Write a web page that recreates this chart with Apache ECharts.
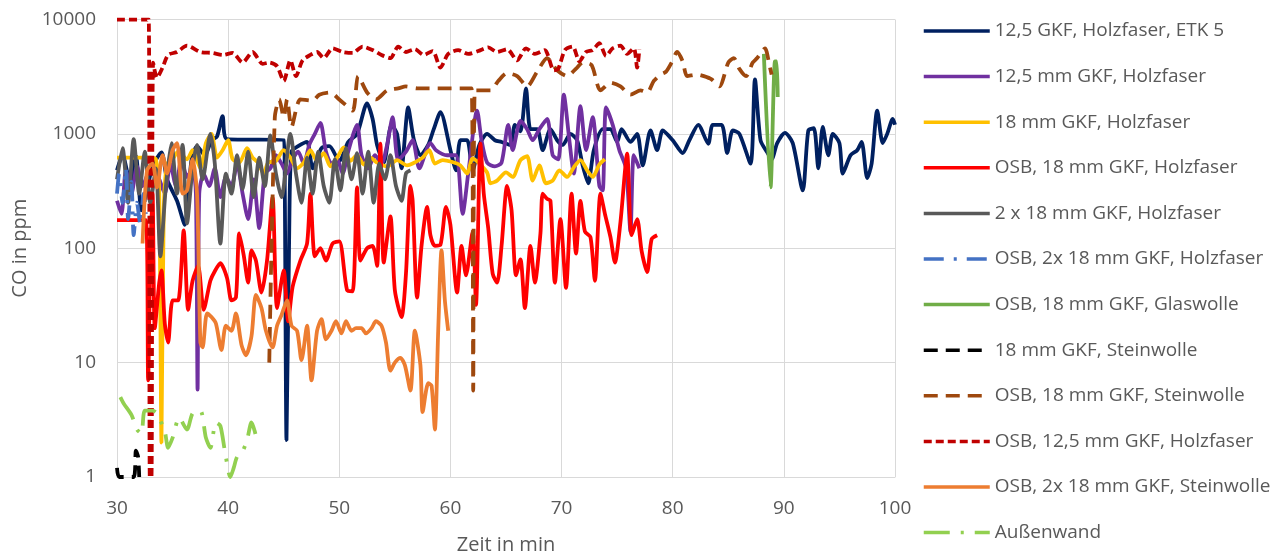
<!DOCTYPE html>
<html>
<head>
<meta charset="utf-8">
<script src="https://cdn.jsdelivr.net/npm/echarts@6/dist/echarts.min.js"></script>
<style>
  html, body { margin: 0; padding: 0; background: #fff; }
  #chart { width: 1285px; height: 553px; }
</style>
</head>
<body>
<div id="chart"></div>
<script>
// CO-Konzentration über die Zeit, Werte als [Zeit in min, CO in ppm]
var xTicks = [30, 40, 50, 60, 70, 80, 90, 100];
var yTicks = [1, 10, 100, 1000, 10000];

var etk5 = [[30,480],[30.5,650],[31.2,370],[31.7,640],[32.2,215],[32.6,290],[33.2,520],[34,690],[34.5,400],[35.4,260],[36.1,160],[36.7,590],[37.2,780],[37.9,650],[38.5,880],[39,950],[39.5,1430],[39.9,900],[45,880],[45.1,300],[45.25,2.1],[45.5,150],[45.7,700],[46.3,780],[47.1,850],[47.6,500],[48.4,750],[49.1,780],[50,580],[50.8,850],[51.6,1000],[52.5,1850],[53,1350],[53.4,800],[54,560],[54.7,1200],[55.2,1000],[55.6,500],[56.2,1700],[56.7,900],[57.3,650],[58,800],[58.5,1100],[59.1,1550],[60,720],[60.5,480],[60.9,880],[61.5,880],[62,480],[62.6,800],[63.3,1000],[64,880],[64.6,850],[65.4,800],[65.8,1200],[66.3,1050],[66.8,2500],[67.2,1100],[67.8,1100],[68.3,720],[69,1100],[69.6,880],[70.1,800],[70.8,1000],[71.4,880],[71.9,530],[72.4,370],[72.9,720],[73.7,1100],[74.4,1100],[75,850],[75.4,1100],[76.2,850],[76.8,1000],[77.3,530],[78,1070],[78.6,720],[79.1,1070],[80,880],[80.9,680],[81.5,880],[82.3,1200],[83.2,820],[83.6,1200],[84.4,1200],[84.9,680],[85.4,1070],[86,1000],[87,550],[87.4,3000],[87.9,880],[88.5,690],[88.9,600],[89.4,830],[90.1,1020],[90.8,830],[91.7,320],[92.2,1070],[92.7,1120],[93.1,500],[93.5,1150],[94,650],[94.4,1000],[95,830],[95.3,450],[96,650],[96.6,720],[97,850],[97.5,410],[97.9,550],[98.4,1600],[98.9,830],[99.3,1000],[99.8,1350],[100,1200]];

var gkf125 = [[30,260],[30.4,200],[30.8,480],[31.3,300],[31.8,520],[32.3,350],[32.8,450],[33.3,480],[33.8,400],[34.3,300],[34.8,550],[35.3,350],[35.8,600],[36.3,420],[36.8,500],[37.1,300],[37.25,5.8],[37.4,300],[37.8,450],[38.3,350],[38.8,500],[39.3,280],[39.8,420],[40.3,350],[40.8,550],[41.3,300],[41.8,180],[42.3,400],[42.8,150],[43.3,450],[43.8,500],[44.3,650],[44.8,550],[45.3,450],[45.8,600],[46.3,700],[46.8,550],[47.3,800],[47.8,1000],[48.3,1250],[48.8,700],[49.3,550],[49.8,600],[50.3,450],[50.8,700],[51.6,1200],[52,650],[52.6,500],[53.2,650],[53.8,550],[54.3,800],[54.8,1400],[55.3,590],[56,700],[56.6,880],[57.2,500],[58.2,830],[58.7,720],[59.7,650],[60.5,650],[61.1,200],[61.6,450],[62.4,1600],[62.8,880],[63.3,560],[64,520],[64.6,560],[65.2,1200],[65.6,720],[66.3,1300],[66.9,1100],[67.4,880],[68,1100],[68.7,1350],[69.2,650],[69.7,600],[70.2,2200],[70.7,880],[71.1,450],[71.7,1750],[72.2,720],[72.8,1400],[73.4,350],[73.7,320],[74,1700],[74.6,1200],[75.2,720],[75.8,500],[76.2,140],[76.5,650],[77,500]];

var gkf18 = [[30,620],[31,620],[32,620],[33,620],[33.5,600],[33.8,300],[34,2],[34.2,200],[34.5,550],[35,600],[35.5,700],[36.3,600],[36.8,720],[37.5,500],[38,830],[38.5,1000],[39,620],[39.5,720],[40,880],[40.4,600],[41,560],[41.7,750],[42.2,620],[42.7,560],[43.2,450],[43.6,560],[44.3,580],[45,720],[45.6,620],[46.2,500],[46.8,560],[47.4,720],[48,580],[48.6,680],[49.2,520],[49.8,620],[50.4,760],[51,580],[51.6,650],[52.2,540],[52.8,620],[53.4,560],[54.3,520],[55.2,590],[56.1,530],[56.6,550],[57.5,620],[58.1,720],[58.6,550],[59.3,590],[60.1,570],[60.9,530],[61.5,450],[62,610],[62.6,550],[63.3,460],[63.6,370],[64.2,390],[65,460],[65.6,420],[66.3,590],[66.9,640],[67.4,390],[68,530],[68.6,370],[69.2,390],[69.8,480],[70.5,420],[71.1,510],[71.7,590],[72.3,480],[72.8,420],[73.4,540],[73.9,600]];

var osbGkf18 = [[30,176],[31,176],[32,176],[32.6,176],[32.8,7],[33,90],[33.2,300],[33.4,20],[33.8,50],[34,64],[34.3,22],[34.6,15],[35,35],[35.5,35],[36,143],[36.4,29],[36.8,52],[37.3,70],[37.8,29],[38.4,52],[38.8,63],[39.3,74],[39.9,55],[40.3,35],[40.7,37],[41,135],[41.4,87],[41.8,50],[42.1,96],[42.5,78],[43,41],[43.5,78],[44,280],[44.4,30],[45,64],[45.4,23],[45.8,46],[46.5,78],[47.1,110],[47.4,300],[47.8,85],[48.3,100],[48.8,78],[49.4,110],[50,115],[50.7,43],[51.2,42],[51.6,340],[51.9,78],[52.5,100],[53,105],[53.4,70],[53.7,820],[54,75],[54.6,190],[55,43],[55.6,25],[56,60],[56.4,350],[56.6,260],[57,37],[57.4,105],[57.9,230],[58.2,130],[58.6,105],[59.1,107],[59.6,230],[60,160],[60.6,41],[61,105],[61.4,58],[62,140],[62.3,32],[62.7,820],[63,300],[63.4,150],[63.8,60],[64.2,50],[64.6,105],[65.1,350],[65.5,215],[65.9,58],[66.3,80],[66.7,30],[67.2,105],[67.6,50],[68.1,135],[68.3,300],[68.7,270],[69,260],[69.4,50],[69.9,180],[70.4,45],[70.9,300],[71.3,90],[71.7,260],[72.1,140],[72.6,125],[73,52],[73.5,300],[73.9,200],[74.4,125],[74.8,75],[75.3,170],[75.9,670],[76.3,130],[76.8,180],[77.2,95],[77.7,62],[78.1,120],[78.6,130]];

var gkf2x18 = [[30,400],[30.5,750],[31,250],[31.5,900],[32,300],[32.5,700],[33,250],[33.5,500],[33.9,85],[34.4,350],[34.9,830],[35.4,300],[35.9,800],[36.3,165],[36.8,500],[37.2,800],[37.7,400],[38.4,1000],[38.8,550],[39.3,110],[39.8,450],[40.3,300],[40.8,650],[41.3,330],[41.8,700],[42.3,280],[42.8,620],[43.3,350],[43.8,970],[44.3,450],[44.8,280],[45.6,1000],[46.1,450],[46.6,250],[47.1,620],[47.6,300],[48.1,700],[48.6,350],[49.1,250],[49.6,600],[50.1,320],[50.6,750],[51.1,400],[51.6,680],[52.1,300],[52.6,700],[53.1,250],[53.6,550],[54.1,400],[54.6,650],[55.1,350],[55.6,260],[56,450],[56.4,480]];

var osb2x18Holz = [[30,300],[30.2,450],[30.5,250],[30.8,500],[31,180],[31.3,380],[31.5,130],[31.8,250],[32.1,160],[32.4,300],[32.6,200]];

var osbGlas = [[88.2,5000],[88.8,340],[89.2,4300],[89.35,4300],[89.45,2100]];

var gkf18Stein = [[30,1.2],[30.2,1],[31.5,1],[31.7,1.7],[31.9,1.5],[32,1]];

var osbGkf18Stein = [[43.7,10],[44.2,1400],[44.6,2000],[45,1400],[45.3,2000],[45.7,1150],[46.5,2000],[47.6,1950],[48.2,2200],[49.2,2300],[50,2000],[51.2,1600],[51.7,3200],[52.5,2300],[53.3,2000],[54.3,2400],[55.3,2500],[56,2600],[57,2500],[59,2500],[61,2500],[61.9,2500],[62.05,5.7],[62.2,2400],[63.6,2400],[64.3,2900],[65.1,3400],[66,3200],[66.9,2600],[67.8,3500],[68.7,4600],[69.6,3600],[70.5,3200],[71.4,3800],[71.9,4200],[72.7,4000],[73.5,2400],[74.4,2800],[75.3,2600],[76.2,2200],[77.1,2400],[77.7,2300],[78.3,2900],[78.9,3300],[79.4,3500],[79.9,4200],[80.4,5200],[80.9,4300],[81.3,3200],[82.2,3300],[82.8,3200],[83.5,3000],[84.2,2600],[85,4200],[85.5,4600],[86,3700],[86.6,3200],[87.2,4200],[87.6,4600],[88.3,5600],[88.7,4000],[88.9,3300]];

var osbGkf125 = [[30,10000],[32.85,10000],[32.95,1],[33.1,1],[33.25,4200],[33.6,3100],[34.1,3800],[34.6,4900],[35.4,5200],[36.3,5900],[37.5,5200],[38.6,5100],[39.5,4900],[40.4,5100],[41.3,4200],[42.2,5200],[43.1,4100],[43.7,4200],[44.4,3900],[45,2900],[45.6,4400],[46.1,3200],[46.7,4400],[47.4,4900],[48,5200],[48.6,4600],[49.4,5600],[50.3,5200],[51.2,5100],[52.1,5800],[53,5400],[53.8,4900],[54.6,4600],[55.3,5800],[56,5200],[56.8,5500],[57.6,4900],[58.4,5300],[59.1,3800],[59.8,5000],[60.7,5400],[61.6,5000],[62.5,5300],[63.4,5700],[64.2,5200],[65.1,5500],[66,4400],[66.8,5600],[67.6,5000],[68.5,5400],[69.3,3600],[69.7,3700],[70.3,5400],[71,5800],[71.6,4300],[72.2,5200],[72.8,5400],[73.4,6200],[74,4800],[74.6,5600],[75.3,5900],[75.9,5000],[76.5,5600],[76.8,3800],[77,5500]];

var osb2x18Stein = [[32.3,110],[32.7,480],[33.2,550],[33.6,340],[34.1,650],[34.5,450],[35,720],[35.4,830],[35.9,300],[36.3,320],[36.8,600],[37.2,300],[37.5,15],[37.7,13.6],[38.1,27],[38.5,25],[38.9,22],[39.4,12.9],[39.8,21],[40.3,19],[40.7,27],[41.2,14.3],[41.6,11.6],[42.1,17],[42.5,39],[43,30],[43.4,19],[44,13.6],[44.4,21],[44.8,26],[45.3,35],[45.7,21],[46.2,19],[46.6,10.5],[47.1,21],[47.5,7],[48,19],[48.4,24],[48.8,16],[49.3,19],[49.7,23],[50.2,18],[50.6,23],[51.1,19],[51.5,20],[52,20],[52.4,18],[52.9,20],[53.3,23],[53.8,21],[54.2,15],[54.6,8.5],[55,10],[55.5,11],[55.9,9.5],[56.4,5.7],[56.8,19],[57.3,9.5],[57.5,3.7],[58,6.6],[58.3,6.3],[58.6,2.6],[58.9,19],[59.2,96],[59.5,35],[59.8,19]];

var aussenwand = [[30.3,5],[30.6,4.4],[31.3,3.5],[31.8,2.6],[32.2,2.4],[32.5,3.8],[33.2,3.8],[33.6,3.6],[34.3,2.5],[34.6,1.8],[35,2.2],[35.6,3.3],[36.3,2.6],[36.8,3.6],[37.5,3.8],[38,2.2],[38.4,1.8],[38.9,3],[39.3,2.8],[39.7,1.7],[40.2,1],[40.5,1.2],[40.8,1.5],[41.2,1.6],[41.7,2.1],[42.1,3],[42.4,2.5],[42.6,2]];

var names = [
  '12,5 GKF, Holzfaser, ETK 5',
  '12,5 mm GKF, Holzfaser',
  '18 mm GKF, Holzfaser',
  'OSB, 18 mm GKF, Holzfaser',
  '2 x 18 mm GKF, Holzfaser',
  'OSB, 2x 18 mm GKF, Holzfaser',
  'OSB, 18 mm GKF, Glaswolle',
  '18 mm GKF, Steinwolle',
  'OSB, 18 mm GKF, Steinwolle',
  'OSB, 12,5 mm GKF, Holzfaser',
  'OSB, 2x 18 mm GKF, Steinwolle',
  'Außenwand'
];
var colors = ['#002060', '#7030a0', '#ffc000', '#ff0000', '#595959', '#4472c4',
              '#70ad47', '#000000', '#9e480e', '#c00000', '#ed7d31', '#92d050'];
var dashes = ['solid', 'solid', 'solid', 'solid', 'solid', [20, 10, 3, 10],
              'solid', [14, 8], [14, 8], [8, 4], 'solid', [26, 11, 3, 11]];
var datasets = [etk5, gkf125, gkf18, osbGkf18, gkf2x18, osb2x18Holz,
                osbGlas, gkf18Stein, osbGkf18Stein, osbGkf125, osb2x18Stein, aussenwand];

var textColor = '#595959';
var font = '"Open Sans", "Noto Sans", sans-serif';

var chart = echarts.init(document.getElementById('chart'), null, { renderer: 'canvas' });

var series = names.map(function (n, i) {
  return {
    name: n,
    type: 'line',
    data: datasets[i],
    symbol: 'none',
    smooth: 0.25,
    lineStyle: { color: colors[i], width: 3.8, type: dashes[i] },
    itemStyle: { color: colors[i] }
  };
});

chart.setOption({
  animation: false,
  grid: { left: 117, right: 390, top: 19.5, bottom: 76, containLabel: false, outerBoundsMode: 'none' },
  legend: {
    orient: 'vertical',
    left: 922,
    top: 21,
    padding: 0,
    itemWidth: 66,
    itemHeight: 20,
    itemGap: 25.6,
    data: names,
    itemStyle: { opacity: 0 },
    lineStyle: { width: 3.5 },
    textStyle: { color: textColor, fontSize: 19, fontFamily: font, lineHeight: 20 }
  },
  xAxis: {
    type: 'value',
    min: xTicks[0],
    max: xTicks[xTicks.length - 1],
    interval: 10,
    name: 'Zeit in min',
    nameLocation: 'middle',
    nameGap: 58,
    nameTextStyle: { color: textColor, fontSize: 20, fontFamily: font },
    axisLine: { show: true, lineStyle: { color: '#d9d9d9', width: 1 } },
    axisTick: { show: false },
    axisLabel: { color: textColor, fontSize: 19, fontFamily: font, margin: 22 },
    splitLine: { show: true, lineStyle: { color: '#d9d9d9', width: 1 } }
  },
  yAxis: {
    type: 'log',
    logBase: 10,
    min: yTicks[0],
    max: yTicks[yTicks.length - 1],
    name: 'CO in ppm',
    nameLocation: 'middle',
    nameGap: 64,
    nameTextStyle: { color: textColor, fontSize: 20, fontFamily: font },
    axisLine: { show: true, lineStyle: { color: '#d9d9d9', width: 1 } },
    axisTick: { show: false },
    axisLabel: {
      color: textColor, fontSize: 19, fontFamily: font, margin: 21,
      formatter: function (v) { return String(Math.round(v)); }
    },
    splitLine: { show: true, lineStyle: { color: '#d9d9d9', width: 1 } }
  },
  series: series
});
</script>
</body>
</html>
